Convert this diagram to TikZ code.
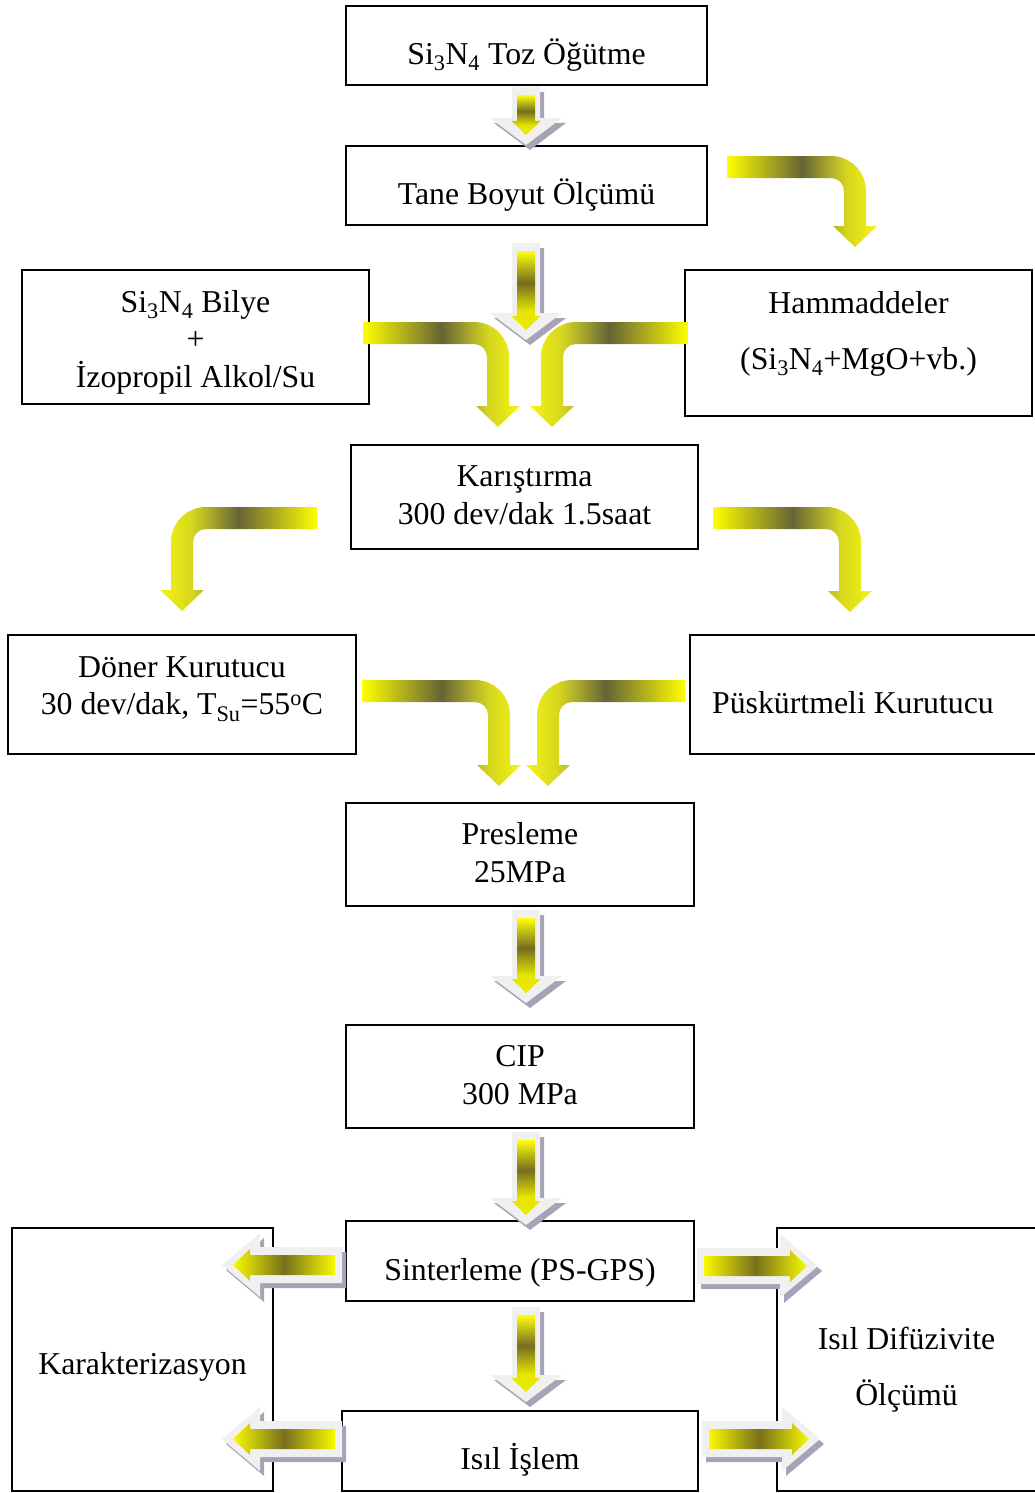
\documentclass[tikz,border=0pt]{standalone}
\usepackage{fontspec}
\setmainfont{Liberation Serif}

\definecolor{ylw}{RGB}{250,250,0}
\definecolor{olv}{RGB}{118,112,28}
\definecolor{arrbody}{RGB}{240,240,240}
\definecolor{arrshade}{RGB}{168,162,182}

% colour runs for the bent arrows (tail bright, dark band, bright stem)
\pgfdeclarehorizontalshading{curveR}{100bp}{rgb(0bp)=(1,1,0); rgb(25bp)=(1,1,0); rgb(50bp)=(0.40,0.39,0.21); rgb(60bp)=(0.70,0.70,0.17); rgb(65bp)=(0.84,0.84,0.12); rgb(75bp)=(0.96,0.96,0.08); rgb(100bp)=(0.96,0.96,0.08)}
\pgfdeclarehorizontalshading{curveL}{100bp}{rgb(0bp)=(0.96,0.96,0.08); rgb(25bp)=(0.96,0.96,0.08); rgb(35bp)=(0.84,0.84,0.12); rgb(40bp)=(0.70,0.70,0.17); rgb(50bp)=(0.40,0.39,0.21); rgb(75bp)=(1,1,0); rgb(100bp)=(1,1,0)}
% yellow core of the straight downward arrows
\pgfdeclareverticalshading{vfill}{100bp}{rgb(0bp)=(0.92,0.92,0); rgb(25bp)=(0.92,0.92,0); rgb(37bp)=(0.90,0.90,0); rgb(55bp)=(0.45,0.43,0.12); rgb(75bp)=(1,1,0.05); rgb(100bp)=(1,1,0.05)}

% text of a box: #1 vertical offset, #2 lines
\newcommand\boxtext[2]{\raisebox{#1}[0pt][0pt]{\begin{tabular}{@{}c@{}}#2\end{tabular}}}

% straight block arrow pointing down: centre x, tail y, tip y, shaft half width, head half width, head length
\newcommand\vpath[6]{({#1-(#4)},{#2}) -- ({#1+(#4)},{#2}) -- ({#1+(#4)},{#3-(#6)}) -- ({#1+(#5)},{#3-(#6)}) -- ({#1},{#3}) -- ({#1-(#5)},{#3-(#6)}) -- ({#1-(#4)},{#3-(#6)}) -- cycle}
\newcommand\vblock[3]{%
  \fill[arrshade, shift={(4,5)}] \vpath{#1}{#2}{#3}{14}{36}{27};
  \fill[arrbody] \vpath{#1}{#2}{#3}{14}{36}{27};
  \shade[shading=vfill] \vpath{#1}{#2+8}{#3-10}{9}{14.5}{14};
}

% straight horizontal block arrow: tip x, tail x, centre y, widths, direction (+1 left, -1 right)
\newcommand\hpath[7]{({#1},{#3}) -- ({#1+(#7)*(#6)},{#3-(#5)}) -- ({#1+(#7)*(#6)},{#3-(#4)}) -- ({#2},{#3-(#4)}) -- ({#2},{#3+(#4)}) -- ({#1+(#7)*(#6)},{#3+(#4)}) -- ({#1+(#7)*(#6)},{#3+(#5)}) -- cycle}
\newcommand\hblock[4]{%
  \fill[arrshade, shift={(4,5)}] \hpath{#1}{#2}{#3}{18}{32}{38}{#4};
  \fill[arrbody] \hpath{#1}{#2}{#3}{18}{32}{38}{#4};
  \shade[left color=ylw, right color=ylw, middle color=olv] \hpath{#1+11*(#4)}{#2-7*(#4)}{#3}{10}{16}{17}{#4};
}

% bent arrows: tail x, shaft y, stem x, tip y
\newcommand\turnR[4]{%
  \shade[shading=curveR] ({#1},{#2-11}) -- ({#3-24},{#2-11})
    .. controls ({#3-24+19.3},{#2-11}) and ({#3+11},{#2+24-19.3}) .. ({#3+11},{#2+24})
    -- ({#3+11},{#4-21}) -- ({#3+22},{#4-21}) -- ({#3},{#4}) -- ({#3-22},{#4-21}) -- ({#3-11},{#4-21})
    -- ({#3-11},{#2+24})
    .. controls ({#3-11},{#2+24-7.2}) and ({#3-24+7.2},{#2+11}) .. ({#3-24},{#2+11})
    -- ({#1},{#2+11}) -- cycle;
}
\newcommand\turnL[4]{%
  \shade[shading=curveL] ({#1},{#2-11}) -- ({#3+24},{#2-11})
    .. controls ({#3+24-19.3},{#2-11}) and ({#3-11},{#2+24-19.3}) .. ({#3-11},{#2+24})
    -- ({#3-11},{#4-21}) -- ({#3-22},{#4-21}) -- ({#3},{#4}) -- ({#3+22},{#4-21}) -- ({#3+11},{#4-21})
    -- ({#3+11},{#2+24})
    .. controls ({#3+11},{#2+24-7.2}) and ({#3+24-7.2},{#2+11}) .. ({#3+24},{#2+11})
    -- ({#1},{#2+11}) -- cycle;
}

\begin{document}
\begin{tikzpicture}[x=1pt, y=-1pt,
  font=\fontsize{31.8}{37.5}\selectfont,
  box/.style={draw=black, line width=1.6pt, inner sep=0pt}]

\useasboundingbox (0,0) rectangle (1034,1493);

% process boxes
\node[box, minimum width=361pt, minimum height=79pt] (ogutme) at (526.5,45.5)
  {\boxtext{-17.45pt}{Si\textsubscript{3}N\textsubscript{4} Toz Öğütme}};
\node[box, minimum width=361pt, minimum height=79pt] (boyut) at (526.5,185.5)
  {\boxtext{-17.45pt}{Tane Boyut Ölçümü}};
\node[box, minimum width=347pt, minimum height=134pt] (bilye) at (195.5,337)
  {\boxtext{-11.45pt}{Si\textsubscript{3}N\textsubscript{4} Bilye\\+\\İzopropil Alkol/Su}};
\node[box, minimum width=347pt, minimum height=146pt] (hammadde) at (858.5,343)
  {\boxtext{3.05pt}{Hammaddeler\\[18.5pt](Si\textsubscript{3}N\textsubscript{4}+MgO+vb.)}};
\node[box, minimum width=347pt, minimum height=104pt] (karistirma) at (524.5,497)
  {\boxtext{-7.45pt}{Karıştırma\\300 dev/dak 1.5saat}};
\node[box, minimum width=348pt, minimum height=119pt] (doner) at (182,694.5)
  {\boxtext{-0.45pt}{Döner Kurutucu\\30 dev/dak, T\textsubscript{Su}=55\textsuperscript{o}C}};
\node[box, minimum width=346pt, minimum height=119pt] (puskurt) at (863,694.5)
  {\boxtext{-17.45pt}{\hspace*{-20pt}Püskürtmeli Kurutucu}};
\node[box, minimum width=348pt, minimum height=103pt] (presleme) at (520,854.5)
  {\boxtext{-7.95pt}{Presleme\\25MPa}};
\node[box, minimum width=348pt, minimum height=103pt] (cip) at (520,1076.5)
  {\boxtext{-7.95pt}{CIP\\300 MPa}};
\node[box, minimum width=348pt, minimum height=80pt] (sinter) at (520,1261)
  {\boxtext{-17.95pt}{Sinterleme (PS-GPS)}};
\node[box, minimum width=356pt, minimum height=80pt] (islem) at (520,1451)
  {\boxtext{-16.95pt}{Isıl İşlem}};
\node[box, minimum width=261pt, minimum height=263pt] (karakter) at (142.5,1359.5)
  {\boxtext{-13.45pt}{Karakterizasyon}};
\node[box, minimum width=259pt, minimum height=263pt] (difuz) at (906.5,1359.5)
  {\boxtext{-16.45pt}{Isıl Difüzivite\\[18.5pt]Ölçümü}};

% straight block arrows
\vblock{526}{87}{145}
\vblock{526}{243}{340}
\vblock{526}{910}{1003}
\vblock{526}{1132}{1225}
\vblock{526}{1307}{1402}
\hblock{222}{342}{1265}{1}
\hblock{222}{342}{1439}{1}
\hblock{818}{697}{1266}{-1}
\hblock{820}{702}{1439}{-1}

% bent arrows
\turnR{727}{167}{855}{247}
\turnR{363}{333}{498}{427}
\turnL{688}{333}{552}{427}
\turnL{317}{518}{182}{611}
\turnR{713}{518}{850}{612}
\turnR{362}{691}{499}{786}
\turnL{685}{691}{548}{786}

\end{tikzpicture}
\end{document}
